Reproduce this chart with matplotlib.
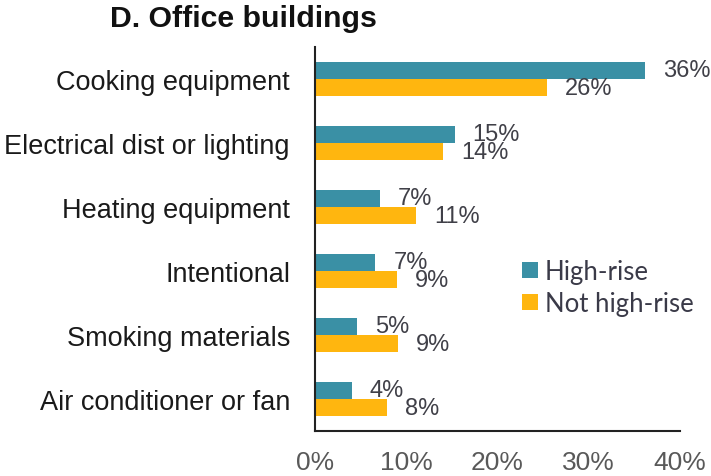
import matplotlib.pyplot as plt
import numpy as np

plt.rcParams['font.family'] = ['Liberation Sans', 'DejaVu Sans']

# categories, top to bottom
categories = ['Cooking equipment', 'Electrical dist or lighting', 'Heating equipment',
              'Intentional', 'Smoking materials', 'Air conditioner or fan']

# bar lengths (percent)
high_rise = [36.2, 15.3, 7.1, 6.6, 4.6, 4.0]
not_high_rise = [25.4, 14.0, 11.1, 9.0, 9.1, 7.9]

# printed value labels
high_rise_labels = ['36%', '15%', '7%', '7%', '5%', '4%']
not_high_rise_labels = ['26%', '14%', '11%', '9%', '9%', '8%']

xticks = [0, 10, 20, 30, 40]
xtick_labels = ['0%', '10%', '20%', '30%', '40%']

teal = '#3a90a5'
orange = '#ffb60f'
label_col = '#404048'

fig = plt.figure(figsize=(7.11, 4.77), dpi=100)
ax = fig.add_axes([315 / 711, 1 - 432 / 477, 365 / 711, 384 / 477])

y = np.arange(len(categories))
h = 0.27
ax.barh(y - h / 2, high_rise, height=h, color=teal, label='High-rise')
ax.barh(y + h / 2, not_high_rise, height=h, color=orange, label='Not high-rise')

# value labels
for i in range(len(categories)):
    ax.annotate(high_rise_labels[i], (high_rise[i], y[i] - h / 2), xytext=(13, 0),
                textcoords='offset points', ha='left', va='center',
                fontsize=17, color=label_col)
    ax.annotate(not_high_rise_labels[i], (not_high_rise[i], y[i] + h / 2), xytext=(13, 0),
                textcoords='offset points', ha='left', va='center',
                fontsize=17, color=label_col)

ax.set_ylim(len(categories) - 0.5, -0.5)
ax.set_xlim(0, 40)
ax.set_yticks(y)
ax.set_yticklabels(categories, fontsize=19.5, color='#1a1a1a')
ax.set_xticks(xticks)
ax.set_xticklabels(xtick_labels, fontsize=19, color='#595959')
ax.tick_params(length=0)
ax.tick_params(axis='y', pad=18)
ax.tick_params(axis='x', pad=14)

for s in ['top', 'right']:
    ax.spines[s].set_visible(False)
for s in ['left', 'bottom']:
    ax.spines[s].set_color('#222222')
    ax.spines[s].set_linewidth(1.5)

leg = ax.legend(loc='upper left', bbox_to_anchor=(0.567, 0.448), frameon=False,
                borderaxespad=0, borderpad=0, handlelength=0.62, handleheight=0.62,
                handletextpad=0.27, labelspacing=0.27,
                prop={'family': 'Lato', 'size': 18.5})
for t in leg.get_texts():
    t.set_color('#3a3a48')

fig.text(110 / 711, 1 - 19 / 477, 'D. Office buildings', fontsize=21.8, fontweight='bold',
         ha='left', va='center', color='#111111')

fig.savefig('out.png', dpi=100)
